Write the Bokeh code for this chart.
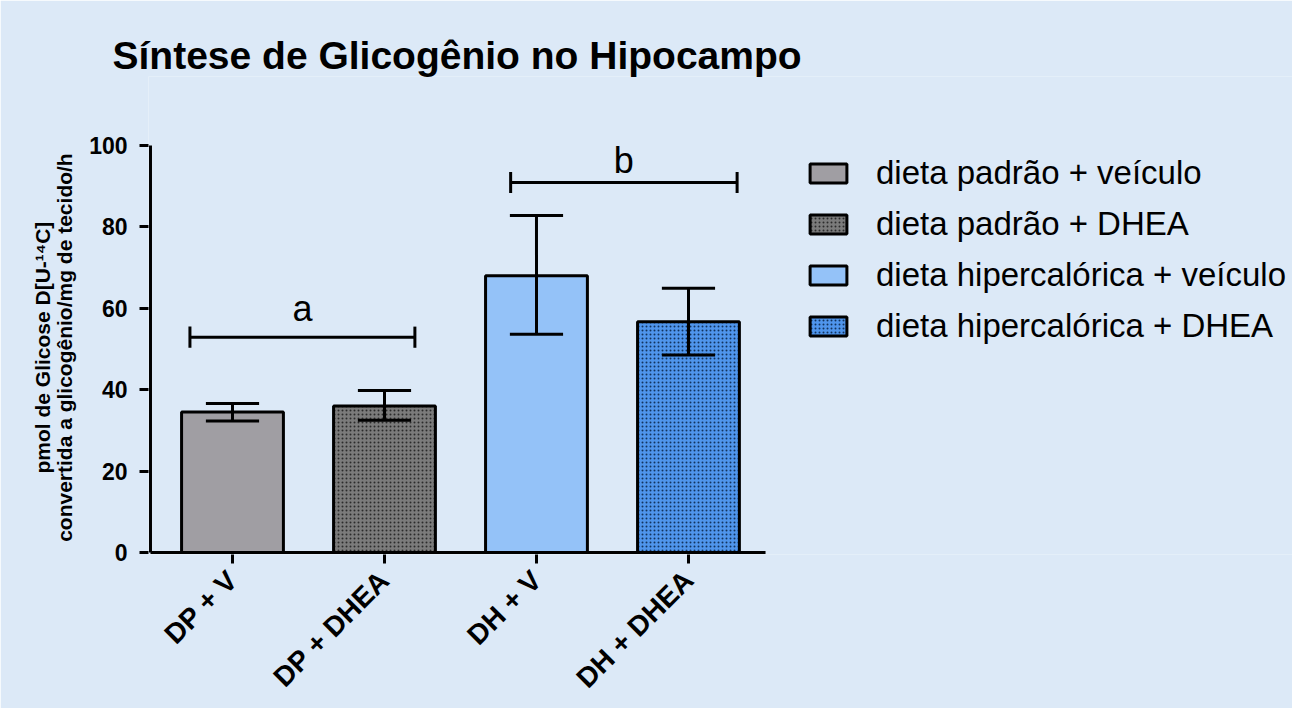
import math
from bokeh.plotting import figure
from bokeh.models import FixedTicker, Legend, LegendItem, Label, Range1d
from bokeh.embed import file_html
from bokeh.resources import INLINE

# ---- data ----
groups = ["DP + V", "DP + DHEA", "DH + V", "DH + DHEA"]
legend_labels = ["dieta padrão + veículo", "dieta padrão + DHEA",
                 "dieta hipercalórica + veículo", "dieta hipercalórica + DHEA"]
means = [34.5, 36.0, 68.0, 56.7]
err_low = [32.3, 32.5, 53.6, 48.5]
err_high = [36.6, 39.8, 82.8, 64.9]
y_ticks = [0, 20, 40, 60, 80, 100]
sig_labels = ["a", "b"]
sig_x0 = [-0.28, 1.83]
sig_x1 = [1.20, 3.32]
sig_y = [52.9, 90.9]
sig_label_y = [60.0, 96.3]
title_text = "Síntese de Glicogênio no Hipocampo"
ylabel_lines = ["pmol de Glicose D[U-¹⁴C]", "convertida a glicogênio/mg de tecido/h"]

fills = ["#a09ea3", "#7b7b7b", "#94c2f8", "#4f95ec"]
hatches = [None, "dot", None, "dot"]
hatch_cols = ["#000000", "#2b2b2b", "#000000", "#12345f"]
BG = "#dce9f7"
FONT = "Liberation Sans"

xs = list(range(len(groups)))
X0, X1 = -0.5526, 6.974      # frame spans wider than the axes; axis lines drawn manually
Y0, Y1 = -0.49, 116.95
AX_X = -0.5395               # where the y axis line sits
AX_XR = 3.507                # right end of the x axis line

p = figure(width=1292, height=708, output_backend="svg", toolbar_location=None,
           x_range=Range1d(X0, X1), y_range=Range1d(Y0, Y1),
           min_border_left=148, min_border_right=0,
           min_border_top=76, min_border_bottom=154)
p.background_fill_color = BG
p.border_fill_color = BG
p.outline_line_color = None
p.grid.visible = False

p.title.text = title_text
p.title.text_font = FONT
p.title.text_font_size = "39px"
p.title.text_font_style = "bold"
p.title.text_color = "black"
p.title.align = "left"
p.title.offset = -36
p.title.standoff = 0

renderers = []
for i in xs:
    kw = dict(x=[xs[i]], top=[means[i]], width=0.67, fill_color=fills[i],
              line_color="black", line_width=3)
    if hatches[i]:
        kw.update(hatch_pattern=hatches[i], hatch_color=hatch_cols[i],
                  hatch_scale=4, hatch_weight=1.2)
    r = p.vbar(**kw)
    renderers.append(r)

# axis lines
p.segment(x0=[AX_X], y0=[0], x1=[AX_X], y1=[max(y_ticks)], line_color="black", line_width=3)
p.segment(x0=[AX_X], y0=[0], x1=[AX_XR], y1=[0], line_color="black", line_width=3)

# error bars
cap = 0.175
p.segment(x0=xs, y0=err_low, x1=xs, y1=err_high, line_color="black", line_width=3)
p.segment(x0=[x - cap for x in xs], y0=err_high, x1=[x + cap for x in xs], y1=err_high,
          line_color="black", line_width=3)
p.segment(x0=[x - cap for x in xs], y0=err_low, x1=[x + cap for x in xs], y1=err_low,
          line_color="black", line_width=3)

# significance brackets
p.segment(x0=sig_x0, y0=sig_y, x1=sig_x1, y1=sig_y, line_color="black", line_width=3)
p.segment(x0=sig_x0, y0=[y - 2.6 for y in sig_y], x1=sig_x0, y1=[y + 2.6 for y in sig_y],
          line_color="black", line_width=3)
p.segment(x0=sig_x1, y0=[y - 2.6 for y in sig_y], x1=sig_x1, y1=[y + 2.6 for y in sig_y],
          line_color="black", line_width=3)
for lab, a, b, ly in zip(sig_labels, sig_x0, sig_x1, sig_label_y):
    p.add_layout(Label(x=(a + b) / 2, y=ly, text=lab, text_font=FONT,
                       text_font_size="36px", text_align="center",
                       text_baseline="alphabetic", text_color="black"))

# axes
pad = "\u00a0" * 11   # shifts the label so it is centred on the 0-100 axis
ya = p.yaxis[0]
ya.ticker = FixedTicker(ticks=y_ticks)
ya.axis_line_color = None
ya.minor_tick_line_color = None
ya.major_tick_in = 0
ya.major_tick_out = 9
ya.major_tick_line_width = 3
ya.major_label_text_font = FONT
ya.major_label_text_font_size = "23px"
ya.major_label_text_font_style = "bold"
ya.major_label_text_color = "black"
ya.major_label_standoff = 12
ya.axis_label = "\n".join(l + pad for l in ylabel_lines)
ya.axis_label_text_font = FONT
ya.axis_label_text_font_size = "21px"
ya.axis_label_text_font_style = "bold"
ya.axis_label_text_color = "black"
ya.axis_label_text_line_height = 0.95
ya.axis_label_standoff = 10

xa = p.xaxis[0]
xa.ticker = FixedTicker(ticks=xs)
xa.major_label_overrides = {i: g for i, g in zip(xs, groups)}
xa.axis_line_color = None
xa.minor_tick_line_color = None
xa.major_tick_in = 0
xa.major_tick_out = 9
xa.major_tick_line_width = 3
xa.major_label_orientation = math.pi / 4
xa.major_label_text_font = FONT
xa.major_label_text_font_size = "28px"
xa.major_label_text_font_style = "bold"
xa.major_label_text_color = "black"
xa.major_label_standoff = 12

legend = Legend(items=[LegendItem(label=legend_labels[i], renderers=[renderers[i]]) for i in xs],
                location=(657, 208))
legend.background_fill_alpha = 0
legend.border_line_color = None
legend.glyph_width = 46
legend.glyph_height = 24
legend.label_height = 40
legend.label_standoff = 25
legend.spacing = 11
legend.label_text_font = FONT
legend.label_text_font_size = "33px"
legend.label_text_color = "black"
legend.margin = 0
legend.padding = 0
p.add_layout(legend)

open("out.html", "w").write(file_html(p, INLINE))
